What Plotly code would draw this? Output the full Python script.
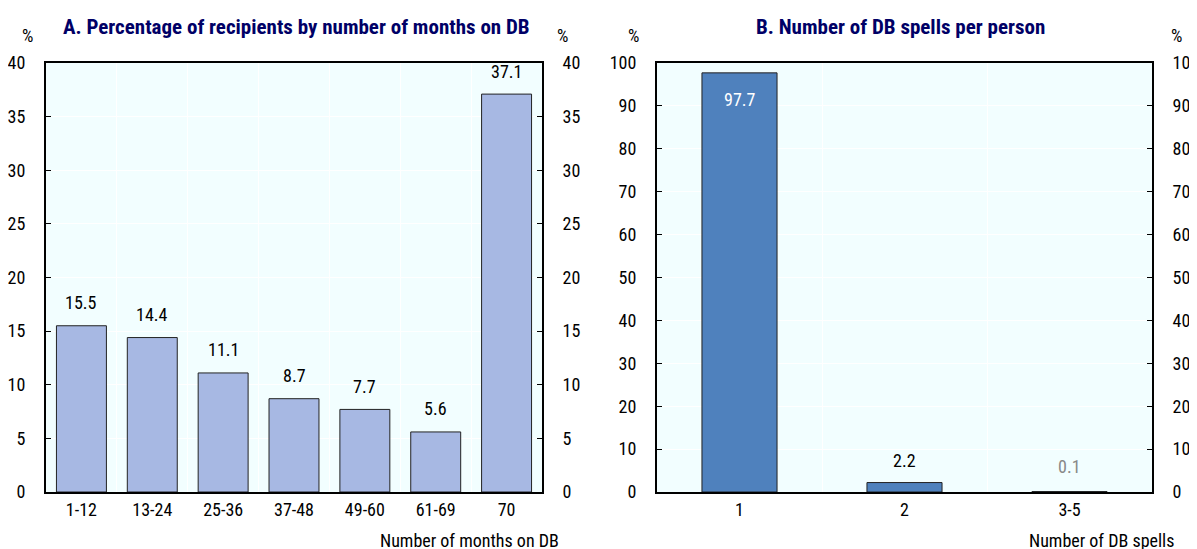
import plotly.graph_objects as go

cats_a = ["1-12", "13-24", "25-36", "37-48", "49-60", "61-69", "70"]
vals_a = [15.5, 14.4, 11.1, 8.7, 7.7, 5.6, 37.1]
cats_b = ["1", "2", "3-5"]
vals_b = [97.7, 2.2, 0.1]

FONT = "Roboto Condensed, Arial Narrow, sans-serif"
BG = "#F2FEFF"
W, H = 1197, 549
FS = 18
OFF = 8  # page body margin offset compensation

def px(x):
    return (x - OFF) / W

def py(y):
    return 1 - (y - OFF) / H

ytop, ybot = py(63), py(492)

fig = go.Figure()
fig.add_trace(go.Bar(
    x=cats_a, y=vals_a, xaxis="x", yaxis="y", width=0.705,
    marker=dict(color="#A7B8E3", line=dict(color="#222222", width=1)),
    showlegend=False, hoverinfo="x+y"))
fig.add_trace(go.Bar(
    x=cats_b, y=vals_b, xaxis="x2", yaxis="y3", width=0.455,
    marker=dict(color="#4F81BD", line=dict(color="#222222", width=1)),
    showlegend=False, hoverinfo="x+y"))
# invisible traces to anchor right axes
fig.add_trace(go.Scatter(x=[cats_a[0]], y=[0], xaxis="x", yaxis="y2", mode="markers",
                         marker=dict(opacity=0), showlegend=False, hoverinfo="skip"))
fig.add_trace(go.Scatter(x=[cats_b[0]], y=[0], xaxis="x2", yaxis="y4", mode="markers",
                         marker=dict(opacity=0), showlegend=False, hoverinfo="skip"))

xcommon = dict(type="category", tickson="boundaries", showgrid=True, gridcolor="white",
               gridwidth=1, ticks="", showline=True, linecolor="black", linewidth=2,
               mirror=True, tickfont=dict(size=FS, family=FONT, color="black"), zeroline=False,
               ticklabelstandoff=0, automargin=False)
ycommon = dict(showgrid=True, gridcolor="white", gridwidth=1, ticks="inside", ticklen=5,
               tickcolor="black", showline=True, linecolor="black", linewidth=2,
               tickfont=dict(size=FS, family=FONT, color="black"), zeroline=False,
               ticklabelstandoff=15, automargin=False)

fig.update_layout(
    template="none",
    width=W, height=H, margin=dict(l=0, r=0, t=0, b=0, autoexpand=False),
    paper_bgcolor="white", plot_bgcolor=BG,
    font=dict(family=FONT, size=FS, color="black"),
    xaxis=dict(domain=[px(46), px(542)], anchor="y", range=[-0.5, len(cats_a) - 0.5],
               categoryorder="array", categoryarray=cats_a, **xcommon),
    yaxis=dict(domain=[ybot, ytop], anchor="x", range=[0, 40], dtick=5, **ycommon),
    yaxis2=dict(overlaying="y", side="right", anchor="x", range=[0, 40], dtick=5,
                **{**ycommon, "showgrid": False}),
    xaxis2=dict(domain=[px(657), px(1152)], anchor="y3", range=[-0.5, len(cats_b) - 0.5],
                categoryorder="array", categoryarray=cats_b, **xcommon),
    yaxis3=dict(domain=[ybot, ytop], anchor="x2", range=[0, 100], dtick=10, **ycommon),
    yaxis4=dict(overlaying="y3", side="right", anchor="x2", range=[0, 100], dtick=10,
                **{**ycommon, "showgrid": False}),
)

lab_font = dict(family=FONT, size=FS, color="black")
for i, v in enumerate(vals_a):
    fig.add_annotation(x=i, y=v, xref="x", yref="y", text=f"{v:.1f}", showarrow=False,
                       yanchor="middle", yshift=23, font=lab_font)
b_colors = ["white", "black", "#888888"]
b_shift = [-27, 22, 25]
for i, (v, col, s) in enumerate(zip(vals_b, b_colors, b_shift)):
    fig.add_annotation(x=i, y=v, xref="x2", yref="y3", text=f"{v:.1f}", showarrow=False,
                       yanchor="middle", yshift=s, font=dict(family=FONT, size=FS, color=col))

title_font = dict(family=FONT, size=21, color="#000066")
ann = [
    dict(text="<b>A. Percentage of recipients by number of months on DB</b>", x=px(296), y=py(27),
         font=title_font),
    dict(text="<b>B. Number of DB spells per person</b>", x=px(900), y=py(27), font=title_font),
    dict(text="%", x=px(27), y=py(36)),
    dict(text="%", x=px(562), y=py(36)),
    dict(text="%", x=px(633), y=py(36)),
    dict(text="%", x=px(1176), y=py(36)),
    dict(text="Number of months on DB", x=px(561), y=py(540), xanchor="right"),
    dict(text="Number of DB spells", x=px(1176), y=py(540), xanchor="right"),
]
for a in ann:
    a.setdefault("xanchor", "center")
    a.setdefault("font", dict(family=FONT, size=FS, color="black"))
    fig.add_annotation(xref="paper", yref="paper", showarrow=False, yanchor="middle", **a)

fig.write_html("out.html")
